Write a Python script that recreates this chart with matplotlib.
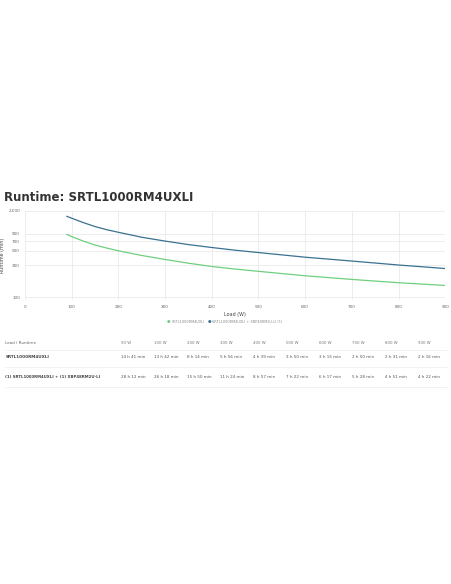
import matplotlib.pyplot as plt
import numpy as np

loads = [90, 100, 125, 150, 175, 200, 250, 300, 350, 400, 450, 500, 600, 700, 800, 900]
green_rt = [880, 820, 700, 610, 550, 500, 425, 370, 325, 290, 265, 245, 210, 185, 165, 150]
blue_rt = [1650, 1550, 1330, 1160, 1040, 950, 800, 700, 620, 560, 510, 470, 400, 350, 305, 270]

col_labels = ["90 W", "100 W", "200 W", "300 W", "400 W", "500 W", "600 W", "700 W", "800 W", "900 W"]
row1 = ["14 h 41 min", "13 h 42 min", "8 h 14 min", "5 h 56 min", "4 h 39 min",
        "3 h 50 min", "3 h 15 min", "2 h 50 min", "2 h 31 min", "2 h 16 min"]
row2 = ["28 h 12 min", "26 h 18 min", "15 h 50 min", "11 h 24 min", "8 h 57 min",
        "7 h 22 min", "6 h 17 min", "5 h 28 min", "4 h 51 min", "4 h 22 min"]

green = "#6fcf7f"
blue = "#3a7190"

fig = plt.figure(figsize=(4.52, 5.84), dpi=100)
fig.text(0.008, 0.655, "Runtime: SRTL1000RM4UXLI", fontsize=8.5, color="#333333", fontweight="bold")

ax = fig.add_axes([0.055, 0.486, 0.93, 0.153])
ax.plot(loads, green_rt, color=green, lw=0.9)
ax.plot(loads, blue_rt, color=blue, lw=0.9)
ax.set_yscale("log")
ax.set_ylim(90, 2000)
ax.set_xlim(0, 900)
yt = [100, 300, 500, 700, 900, 2000]
ax.set_yticks(yt)
ax.set_yticklabels(["100", "300", "500", "700", "900", "2,000"])
ax.minorticks_off()
ax.set_xticks(range(0, 901, 100))
ax.tick_params(labelsize=3, colors="#666666", length=0)
ax.grid(color="#e6e6e6", lw=0.5)
for s in ax.spines.values():
    s.set_visible(False)
ax.set_xlabel("Load (W)", fontsize=3.5, color="#444444", labelpad=2)
ax.set_ylabel("Runtime (min)", fontsize=3.5, color="#444444", labelpad=2)

fig.text(0.37, 0.448, "\u25cf", color=green, fontsize=3, va="center")
fig.text(0.38, 0.448, "SRTL1000RM4UXLI", color="#888888", fontsize=2.5, va="center")
fig.text(0.46, 0.448, "\u25cf", color=blue, fontsize=3, va="center")
fig.text(0.47, 0.448, "SRTL1000RM4UXLI + XBP48RM2U-LI (1)", color="#888888", fontsize=2.5, va="center")

xs = np.linspace(0.268, 0.925, 10)
hy, r1y, r2y = 0.413, 0.388, 0.355
fig.text(0.012, hy, "Load / Runtime", fontsize=3, color="#666666", va="center")
fig.text(0.012, r1y, "SRTL1000RM4UXLI", fontsize=3, color="#444444", va="center", fontweight="bold")
fig.text(0.012, r2y, "(1) SRTL1000RM4UXLI + (1) XBP48RM2U-LI", fontsize=2.8, color="#444444", va="center", fontweight="bold")
for x, c, a, b in zip(xs, col_labels, row1, row2):
    fig.text(x, hy, c, fontsize=2.8, color="#777777", va="center")
    fig.text(x, r1y, a, fontsize=3, color="#555555", va="center")
    fig.text(x, r2y, b, fontsize=3, color="#555555", va="center")
for y in [0.401, 0.372, 0.338]:
    fig.add_artist(plt.Line2D([0.01, 0.99], [y, y], color="#eeeeee", lw=0.5))

fig.savefig("out.png", dpi=100)
